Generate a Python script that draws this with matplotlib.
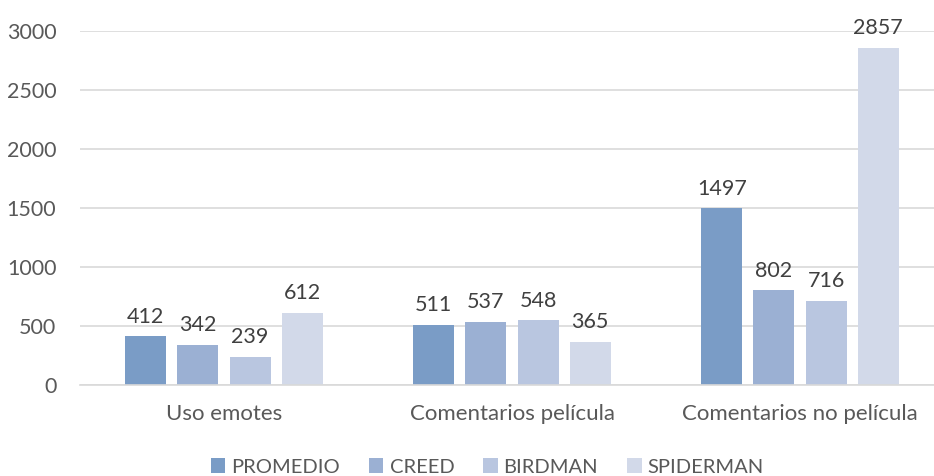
import numpy as np
import matplotlib.pyplot as plt

plt.rcParams['font.family'] = ['Lato', 'DejaVu Sans']

categorias = ['Uso emotes', 'Comentarios película', 'Comentarios no película']
series = ['PROMEDIO', 'CREED', 'BIRDMAN', 'SPIDERMAN']
promedio = [412, 511, 1497]
creed = [342, 537, 802]
birdman = [239, 548, 716]
spiderman = [612, 365, 2857]
colores = ['#7a9cc6', '#9bb0d3', '#b9c6e0', '#d2d9e9']

valores = [promedio, creed, birdman, spiderman]

# the plot area runs past the right edge of the picture, as in the reference
fig = plt.figure(figsize=(9.34, 4.76), dpi=100)
ax = fig.add_axes([80 / 934, 1 - 385 / 476, 864 / 934, 354 / 476])

x = np.arange(len(categorias))
ancho = 0.142
paso = 0.181
for i, (nombre, vals, c) in enumerate(zip(series, valores, colores)):
    pos = x + (i - 1.5) * paso
    barras = ax.bar(pos, vals, width=ancho, color=c, label=nombre, zorder=2)
    ax.bar_label(barras, labels=[str(v) for v in vals], padding=7,
                 fontsize=15.5, color='#404040')

ax.set_ylim(0, 3000)
ax.set_xlim(-0.5, 2.5)
ax.set_yticks(range(0, 3001, 500))
ax.set_xticks(x)
ax.set_xticklabels(categorias, fontsize=16)
ax.yaxis.grid(True, color='#d9d9d9', linewidth=1.2, zorder=0)
ax.set_axisbelow(True)
for s in ['top', 'right', 'left']:
    ax.spines[s].set_visible(False)
ax.spines['bottom'].set_color('#d9d9d9')
ax.spines['bottom'].set_linewidth(1.2)
ax.tick_params(axis='both', length=0, colors='#595959')
ax.tick_params(axis='y', labelsize=15.5, pad=17)
ax.tick_params(axis='x', pad=14)

fig.legend(loc='center', bbox_to_anchor=(0.522, 0.019), ncol=4, frameon=False,
           fontsize=14.5, labelcolor='#595959', handlelength=0.7, handleheight=0.7,
           handletextpad=0.3, columnspacing=1.45)

fig.savefig('out.png', dpi=100)
